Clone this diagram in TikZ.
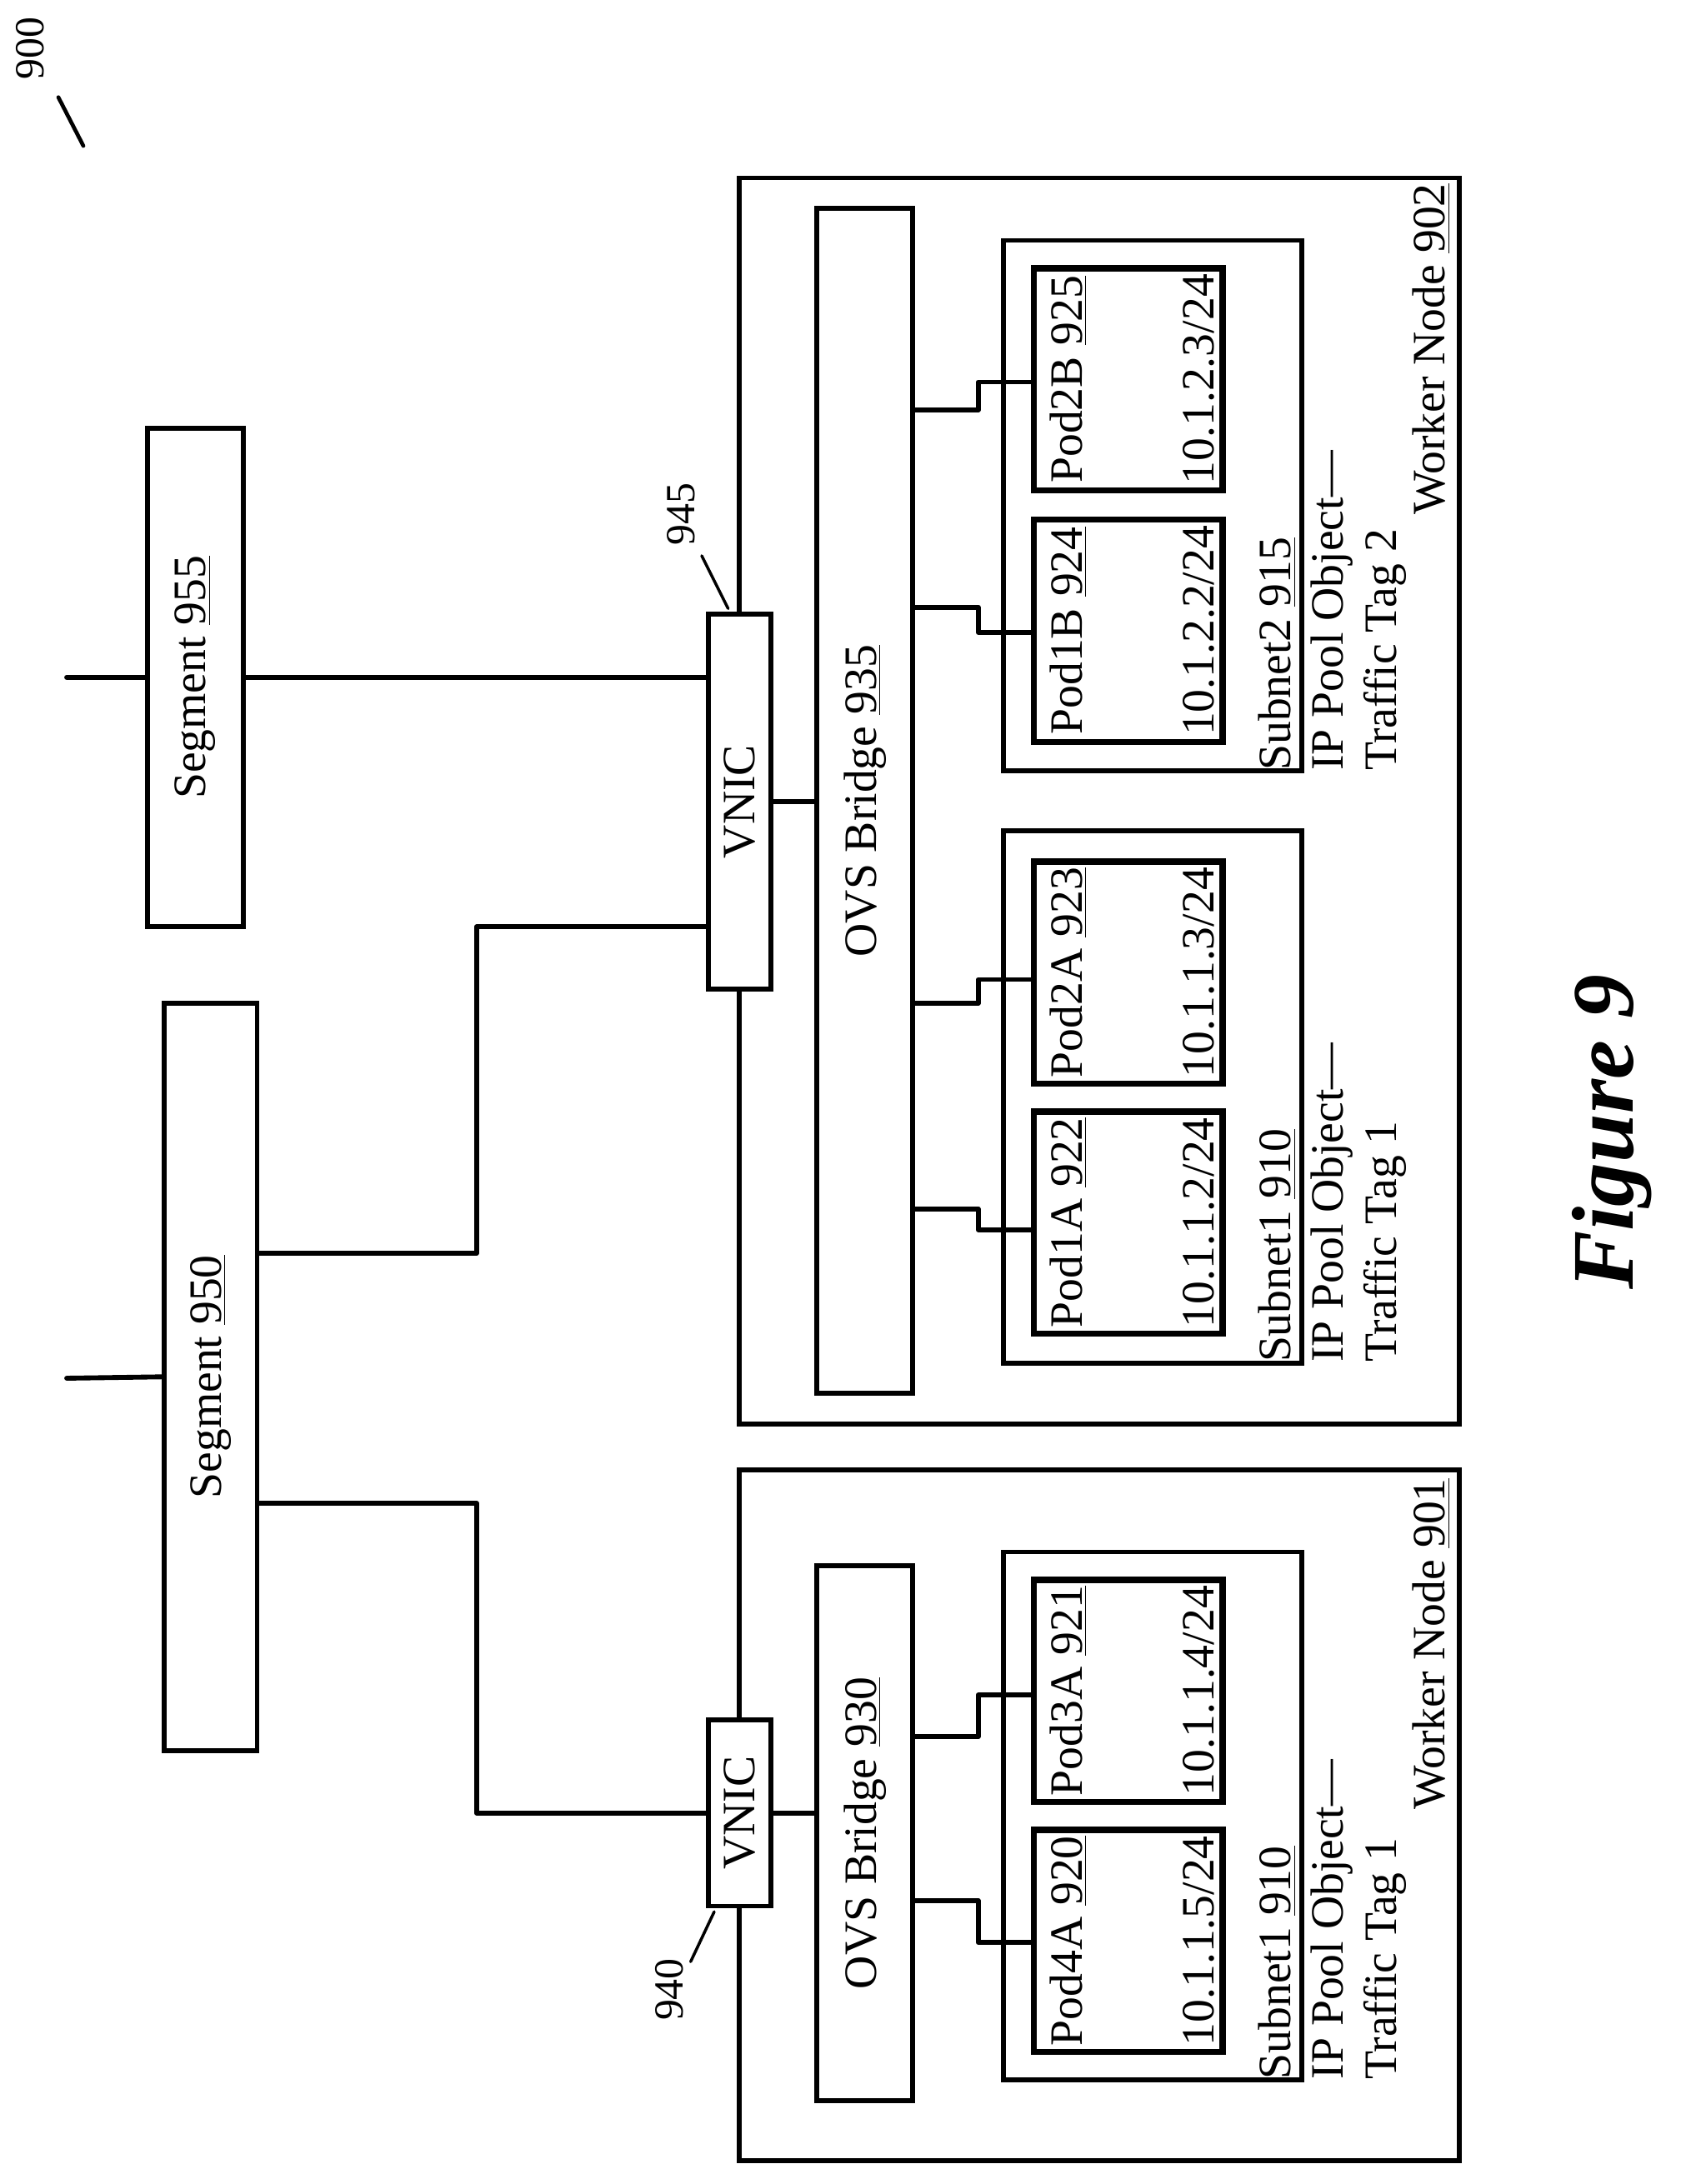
\documentclass[tikz,border=0pt]{standalone}
\usepackage{fontspec}
\setmainfont{Liberation Serif}
\usetikzlibrary{positioning}
\tikzset{
  box/.style={draw,line width=2pt,inner sep=0pt},
  wire/.style={line width=2pt,line join=round},
  txt/.style={rotate=90,font=\fontsize{19}{22}\selectfont,inner sep=1pt},
  ref/.style={rotate=90,font=\fontsize{17}{20}\selectfont,inner sep=1pt}
}
\newcommand{\num}[1]{\underline{#1}}
\begin{document}
\begin{tikzpicture}[x=0.02cm,y=-0.02cm,line cap=round]
\useasboundingbox (0,0) rectangle (1213,1572);
% segments
\node[box,minimum width=1.38cm,minimum height=7.18cm] (seg955) at (140.5,487.5) {};
\node[box,minimum width=1.34cm,minimum height=10.76cm] (seg950) at (151.5,991) {};
\node[txt] at (seg955) {Segment \num{955}};
\node[txt] at (seg950) {Segment \num{950}};
% worker nodes
\node[box,minimum width=10.36cm,minimum height=17.94cm] (wn902) at (791,576.5) {};
\node[box,minimum width=10.36cm,minimum height=9.94cm] (wn901) at (791,1306.5) {};
\node[txt,anchor=east] at (1030,130) {Worker Node \num{902}};
\node[txt,anchor=east] at (1030,1062) {Worker Node \num{901}};
% vnics
\node[box,fill=white,minimum width=0.9cm,minimum height=5.4cm] (vnic945) at (532.5,577) {};
\node[box,fill=white,minimum width=0.9cm,minimum height=2.68cm] (vnic940) at (532.5,1305) {};
\node[txt] at (vnic945) {VNIC};
\node[txt] at (vnic940) {VNIC};
% ovs bridges
\node[box,minimum width=1.38cm,minimum height=17.06cm] (ovs935) at (622.5,576.5) {};
\node[box,minimum width=1.38cm,minimum height=7.7cm] (ovs930) at (622.5,1319.5) {};
\node[txt] at (ovs935) {OVS Bridge \num{935}};
\node[txt] at (ovs930) {OVS Bridge \num{930}};
% subnets
\node[box,minimum width=4.3cm,minimum height=7.64cm] (sub915) at (829.5,364) {};
\node[box,minimum width=4.3cm,minimum height=7.66cm] (sub910b) at (829.5,789.5) {};
\node[box,minimum width=4.3cm,minimum height=7.6cm] (sub910a) at (829.5,1307) {};
\foreach \s/\n/\t in {sub915/915/2,sub910b/910/1,sub910a/910/1}{
  \node[txt,anchor=north west] at ([xshift=-0.7cm]\s.south east) {Subnet\t\ \num{\n}};
  \node[txt,anchor=north west,align=left] at ([xshift=0.05cm]\s.south east) {IP Pool Object—\\Traffic Tag \t};
}
% pods
\foreach \p/\nm/\n/\ip/\yy in {pod2b/Pod2B/925/10.1.2.3/273,pod1b/Pod1B/924/10.1.2.2/454,
  pod2a/Pod2A/923/10.1.1.3/700,pod1a/Pod1A/922/10.1.1.2/880,
  pod3a/Pod3A/921/10.1.1.4/1217,pod4a/Pod4A/920/10.1.1.5/1397}{
  \node[box,line width=2.6pt,minimum width=2.72cm,minimum height=3.2cm] (\p) at (812,\yy) {};
  \node[txt,anchor=south] at ([xshift=-0.55cm]\p.center) {\nm\ \num{\n}};
  \node[txt,anchor=north] at ([xshift=0.75cm]\p.center) {\ip/24};
}
% wires
\draw[wire] (48,487.5) -- (seg955.west);
\draw[wire] (48,992) -- (seg950.west);
\draw[wire] (seg955.east) -- (vnic945.west |- seg955.east);
\draw[wire] ([yshift=1.78cm]seg950.east) -| (343,667) -- (vnic945.west |- 0,667);
\draw[wire] ([yshift=-1.82cm]seg950.east) -| (343,1305) -- (vnic940.west);
\draw[wire] (vnic945.east) -- (ovs935.west |- vnic945.east);
\draw[wire] (vnic940.east) -- (ovs930.west |- vnic940.east);
\foreach \p/\o/\ya/\yb in {pod2b/ovs935/295/275,pod1b/ovs935/437/455,pod2a/ovs935/722/705,
  pod1a/ovs935/870/885,pod3a/ovs930/1250/1220,pod4a/ovs930/1368/1398}{
  \draw[wire] (\o.east |- 0,\ya) -| (704,\yb) -- (\p.west |- 0,\yb);
}
% reference labels
\node[ref] (r900) at (22,35) {900};
\draw[line width=1.6pt] (42,70) -- (60,105);
\node[ref] (r945) at (490,370) {945};
\draw[line width=1.2pt] (505,400) -- (524,438);
\node[ref] (r940) at (482,1432) {940};
\draw[line width=1.2pt] (497,1412) -- (514,1376);
\node[rotate=90,font=\fontsize{36}{40}\selectfont\bfseries\itshape] (fig) at (1160,815) {Figure 9};
\end{tikzpicture}
\end{document}
